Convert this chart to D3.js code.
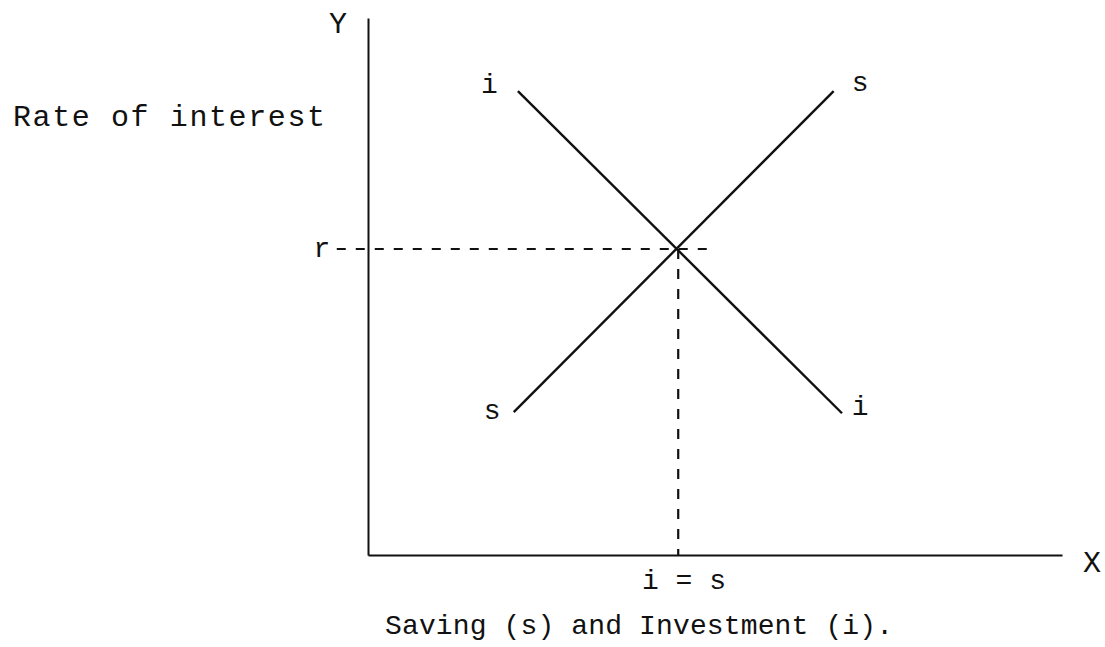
<!DOCTYPE html>
<html>
<head>
<meta charset="utf-8">
<script src="https://cdn.jsdelivr.net/npm/d3@7"></script>
<style>
  html, body { margin: 0; padding: 0; background: #fff; }
  svg { display: block; }
  text { font-family: "Liberation Mono", "DejaVu Sans Mono", monospace; fill: #111; }
</style>
</head>
<body>
<svg id="chart" width="1105" height="647"></svg>
<script>
// ---- data (abstract units, x: 0..100, y: 0..100) ----
const investmentLine = [ {x: 21.6, y: 86.4}, {x: 68.3, y: 26.4} ]; // i–i schedule
const savingLine     = [ {x: 21.0, y: 26.6}, {x: 67.1, y: 86.4} ]; // s–s schedule
const equilibrium    = {x: 44.7, y: 57.0};
const guideHorizontalExtent = [-4.5, 49.3];   // x-range of dashed r line
const curveLabels = [
  {text: "i", x: 17.5, y: 86.0},
  {text: "s", x: 70.9, y: 86.4},
  {text: "s", x: 17.9, y: 25.4},
  {text: "i", x: 70.9, y: 26.1}
];
const axisLabelX = "X";
const axisLabelY = "Y";
const yTitle = "Rate of interest";
const xTitle = "Saving (s) and Investment (i).";
const rateLabel = "r";
const equalityLabel = "i = s";

// ---- scales ----
const svg = d3.select("#chart");
const x = d3.scaleLinear().domain([0, 100]).range([368, 1062]);
const y = d3.scaleLinear().domain([0, 100]).range([555, 18]);

const ink = "#111";

// axes (drawn as d3 axes with no ticks)
const xAxis = d3.axisBottom(x).tickValues([]).tickSizeOuter(0);
const yAxis = d3.axisLeft(y).tickValues([]).tickSizeOuter(0);
svg.append("g").attr("transform", `translate(0,${y(0)})`).call(xAxis)
  .select(".domain").attr("stroke", ink).attr("stroke-width", 2);
svg.append("g").attr("transform", `translate(${x(0)},0)`).call(yAxis)
  .select(".domain").attr("stroke", ink).attr("stroke-width", 2);

// dashed guides
svg.append("line")
  .attr("x1", x(guideHorizontalExtent[0])).attr("x2", x(guideHorizontalExtent[1]))
  .attr("y1", y(equilibrium.y)).attr("y2", y(equilibrium.y))
  .attr("stroke", ink).attr("stroke-width", 2).attr("stroke-dasharray", "9,10");
svg.append("line")
  .attr("x1", x(equilibrium.x)).attr("x2", x(equilibrium.x))
  .attr("y1", y(equilibrium.y)).attr("y2", y(0))
  .attr("stroke", ink).attr("stroke-width", 2.2).attr("stroke-dasharray", "10,10");

// curves
const line = d3.line().x(d => x(d.x)).y(d => y(d.y));
[investmentLine, savingLine].forEach(data => {
  svg.append("path").datum(data).attr("d", line)
    .attr("fill", "none").attr("stroke", ink).attr("stroke-width", 2.4);
});

// curve labels
svg.selectAll("text.curve").data(curveLabels).join("text")
  .attr("class", "curve")
  .attr("x", d => x(d.x)).attr("y", d => y(d.y))
  .attr("text-anchor", "middle").attr("font-size", 28)
  .text(d => d.text);

// axis letters
svg.append("text").attr("x", 338).attr("y", 33).attr("text-anchor", "middle")
  .attr("font-size", 30).text(axisLabelY);
svg.append("text").attr("x", 1092).attr("y", 572).attr("text-anchor", "middle")
  .attr("font-size", 30).text(axisLabelX);

// titles
svg.append("text").attr("x", 13).attr("y", 126).attr("font-size", 30)
  .attr("textLength", 312).attr("lengthAdjust", "spacing").text(yTitle);
svg.append("text").attr("x", 385).attr("y", 634).attr("font-size", 28)
  .attr("textLength", 508).attr("lengthAdjust", "spacing").text(xTitle);

// r and i = s labels
svg.append("text").attr("x", 322).attr("y", y(equilibrium.y) + 8).attr("text-anchor", "middle")
  .attr("font-size", 28).text(rateLabel);
svg.append("text").attr("x", 684).attr("y", 589).attr("text-anchor", "middle")
  .attr("font-size", 28).attr("xml:space", "preserve").text(equalityLabel);
</script>
</body>
</html>
